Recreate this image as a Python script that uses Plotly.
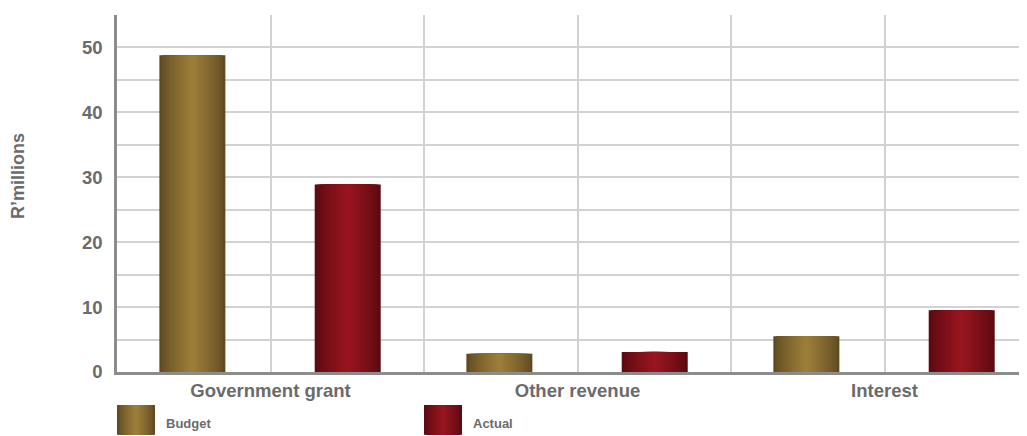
import plotly.graph_objects as go

categories = ["Government grant", "Other revenue", "Interest"]
budget = [48.8, 2.8, 5.5]
actual = [28.9, 3.1, 9.5]
series_names = ["Budget", "Actual"]
y_tick_vals = [0, 10, 20, 30, 40, 50]
y_title = "R\u2019millions"

FONT = "Arial, 'Liberation Sans', Helvetica, sans-serif"
GREY_TXT = "#6b6b6b"

def hex2rgb(h):
    h = h.lstrip("#")
    return tuple(int(h[i:i + 2], 16) for i in (0, 2, 4))

def mix(c1, c2, t):
    a, b = hex2rgb(c1), hex2rgb(c2)
    return "rgb(%d,%d,%d)" % tuple(round(a[i] + (b[i] - a[i]) * t) for i in range(3))

styles = {
    "Budget": dict(edge="#5f4a22", center="#9d7e39", offset=-0.362),
    "Actual": dict(edge="#5a0a11", center="#97151f", offset=0.144),
}
BAR_W = 0.215
N_LAYERS = 14

x_idx = list(range(len(categories)))
fig = go.Figure()

for name, vals in zip(series_names, [budget, actual]):
    st = styles[name]
    for k in range(N_LAYERS):
        w = BAR_W * (1 - k / N_LAYERS)
        col = mix(st["edge"], st["center"], (k / (N_LAYERS - 1)) ** 0.8)
        fig.add_trace(go.Bar(
            x=x_idx, y=vals, name=name,
            width=w, offset=st["offset"] + (BAR_W - w) / 2,
            marker=dict(color=col, line=dict(width=0)),
            showlegend=False, hoverinfo="skip" if k else None,
        ))

# legend swatches (layered rectangles, x in data units / y in paper units)
shapes = []
annotations = []
sw_w = 38 / 307.0
for name, x0 in zip(series_names, [-0.5, 0.5]):
    st = styles[name]
    for k in range(N_LAYERS):
        w = sw_w * (1 - k / N_LAYERS)
        col = mix(st["edge"], st["center"], (k / (N_LAYERS - 1)) ** 0.8)
        shapes.append(dict(type="rect", xref="x", yref="paper",
                           x0=x0 + (sw_w - w) / 2, x1=x0 + (sw_w + w) / 2,
                           y0=-0.176, y1=-0.0924, fillcolor=col,
                           line=dict(width=0), layer="above"))
    annotations.append(dict(text=name, xref="x", yref="paper",
                            x=x0 + 47 / 307.0, y=-0.145, xanchor="left",
                            yanchor="middle", showarrow=False,
                            font=dict(family=FONT, size=13, color=GREY_TXT,
                                      weight="bold")))

annotations.append(dict(text=y_title, xref="paper", yref="paper",
                        x=-0.1088, y=0.549, textangle=-90,
                        xanchor="center", yanchor="middle", showarrow=False,
                        font=dict(family=FONT, size=18, color=GREY_TXT,
                                  weight="bold")))

fig.update_layout(
    width=1019, height=428,
    margin=dict(l=109, r=0, t=7, b=64),
    paper_bgcolor="white", plot_bgcolor="white",
    barmode="overlay", showlegend=False,
    font=dict(family=FONT, color=GREY_TXT),
    shapes=shapes, annotations=annotations,
    xaxis=dict(
        range=[-0.5, -0.5 + 910 / 307.0],
        tickmode="array", tickvals=x_idx, ticktext=categories,
        tickfont=dict(family=FONT, size=18.5, color=GREY_TXT, weight="bold"),
        showgrid=True, gridcolor="#d2d2d2", gridwidth=1.5,
        minor=dict(tickmode="array", tickvals=[0.5, 1.5], showgrid=True,
                   gridcolor="#d2d2d2", gridwidth=1.5, ticks=""),
        showline=True, linecolor="#8c8c8c", linewidth=2.5,
        ticks="", zeroline=False, fixedrange=True,
    ),
    yaxis=dict(
        range=[0, 55],
        tickmode="array", tickvals=y_tick_vals,
        tickfont=dict(family=FONT, size=18.5, color=GREY_TXT, weight="bold"),
        showgrid=True, gridcolor="#d2d2d2", gridwidth=1.5,
        minor=dict(dtick=5, showgrid=True, gridcolor="#d2d2d2",
                   gridwidth=1.5, ticks=""),
        showline=True, linecolor="#8c8c8c", linewidth=2.5,
        ticks="", zeroline=False, ticklabelstandoff=8,
    ),
)

fig.write_html("out.html")
